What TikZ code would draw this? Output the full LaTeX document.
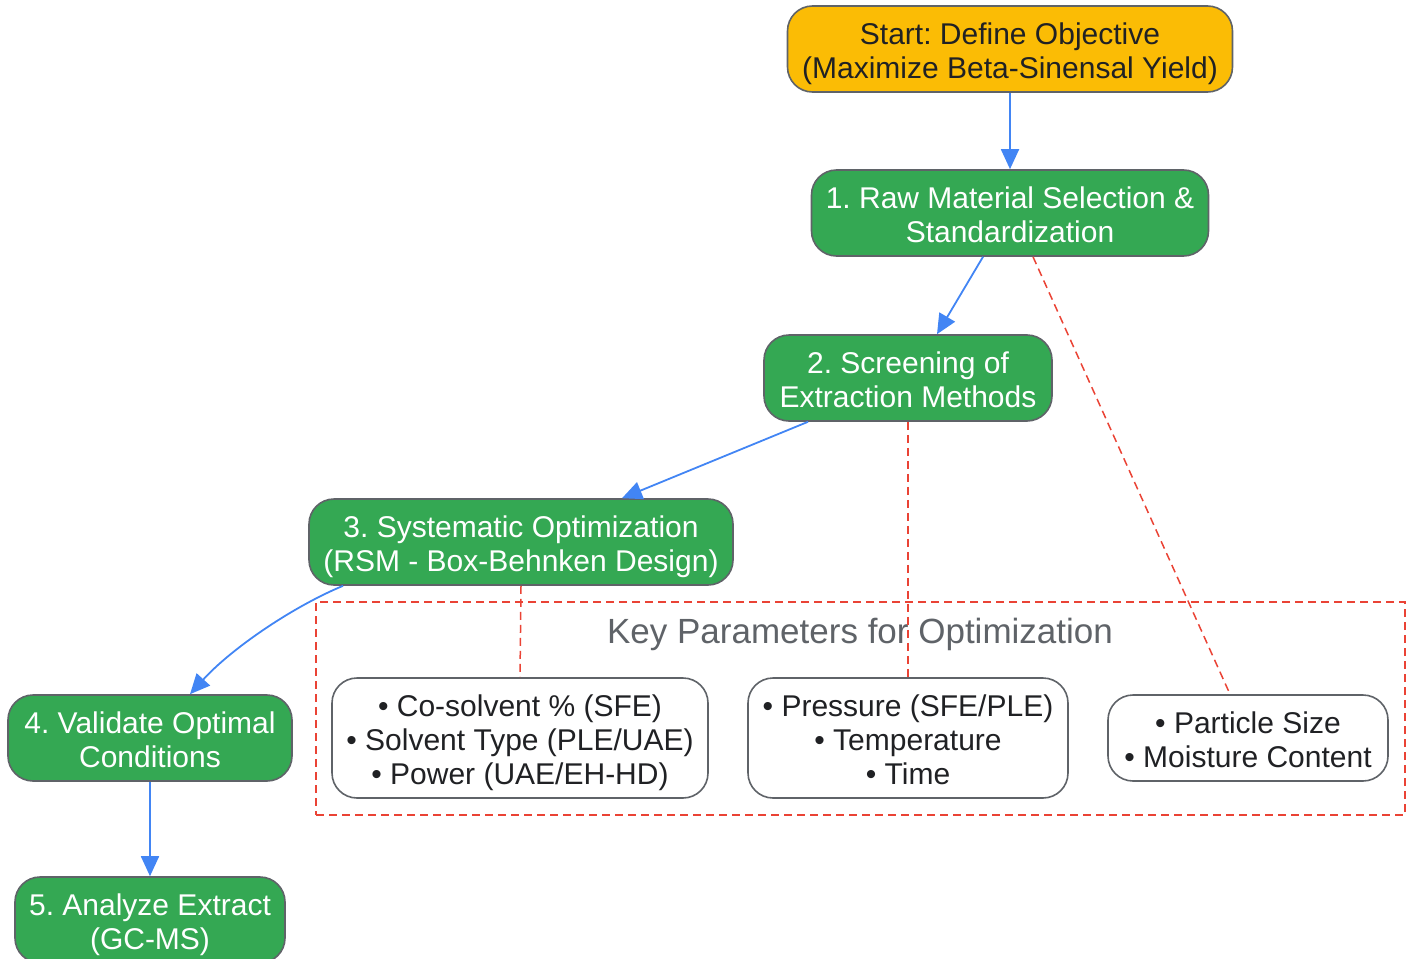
\documentclass[tikz,border=0pt]{standalone}
\usepackage{fontspec}
\setmainfont{Liberation Sans}
\usetikzlibrary{arrows.meta,positioning}
\definecolor{startcolor}{RGB}{251,188,5}
\definecolor{stepcolor}{RGB}{52,168,83}
\definecolor{flowcolor}{RGB}{66,133,244}
\definecolor{linkcolor}{RGB}{234,67,53}
\definecolor{edgecolor}{RGB}{95,99,104}
\definecolor{textcolor}{RGB}{32,33,36}
\frenchspacing

\begin{document}
\begin{tikzpicture}[%
    x=1pt, y=-1pt,              % Pixel-like grid, top to bottom
    >={Triangle[length=20pt,width=18pt]},
    font=\fontsize{30}{34}\selectfont,
    ]
\tikzset{
  base/.style={draw=edgecolor, line width=1.6pt, align=center, rounded corners=25pt, minimum height=86pt, inner sep=0pt,
    text height=66pt, text depth=8pt},
  three/.style={minimum height=120pt, text height=100pt},
  term/.style={base, fill=startcolor, text=textcolor},
  proc/.style={base, fill=stepcolor, text=white},
  param/.style={base, fill=white, text=textcolor},
  cluster/.style={draw=linkcolor, line width=1.5pt, dash pattern=on 8pt off 5pt},
  flow/.style={->, draw=flowcolor, line width=1.8pt},
  link/.style={draw=linkcolor, line width=1.5pt, dash pattern=on 8pt off 5pt},
}
\useasboundingbox (0,0) rectangle (1412,958);

% parameter group
\node [cluster, minimum width=1089pt, minimum height=213pt] (grp) at (860.5,708.5) {};
\node [text=edgecolor, font=\fontsize{35}{34}\selectfont] (grptitle) at (860,634) {Key Parameters for Optimization};

\node [term, minimum width=445pt] (p0) at (1010,49) {Start: Define Objective\\(Maximize Beta-Sinensal Yield)};
\node [proc, minimum width=397pt] (p1) at (1010,213) {1. Raw Material Selection \&\\Standardization};
\node [proc, minimum width=288pt] (p2) at (908,378) {2. Screening of\\Extraction Methods};
\node [proc, minimum width=424pt] (p3) at (521,542) {3. Systematic Optimization\\(RSM - Box-Behnken Design)};
\node [proc, minimum width=284pt] (p4) at (150,738) {4. Validate Optimal\\Conditions};
\node [proc, minimum width=270pt] (p5) at (150,920) {5. Analyze Extract\\(GC-MS)};

\node [param, three, minimum width=376pt] (q1) at (520,738) {• Co-solvent \% (SFE)\\• Solvent Type (PLE/UAE)\\• Power (UAE/EH-HD)};
\node [param, three, minimum width=320pt] (q2) at (908,738) {• Pressure (SFE/PLE)\\• Temperature\\• Time};
\node [param, minimum width=280pt] (q3) at (1248,738) {• Particle Size\\• Moisture Content};

\draw [link] ([xshift=23pt]p1.south) -- ([xshift=-18pt]q3.north);
\draw [link] (p2.south) -- (q2.north);
\draw [link] (p3.south) -- (q1.north);

\draw [flow] (p0.south) -- (p1.north);
\draw [flow] ([xshift=-27pt]p1.south) -- ([xshift=29pt]p2.north);
\draw [flow] ([xshift=-100pt]p2.south) -- ([xshift=101pt]p3.north);
\draw [flow] ([xshift=-178pt]p3.south) .. controls (290,608) and (230,650) .. ([xshift=40pt]p4.north);
\draw [flow] (p4.south) -- (p5.north);

\end{tikzpicture}
\end{document}
